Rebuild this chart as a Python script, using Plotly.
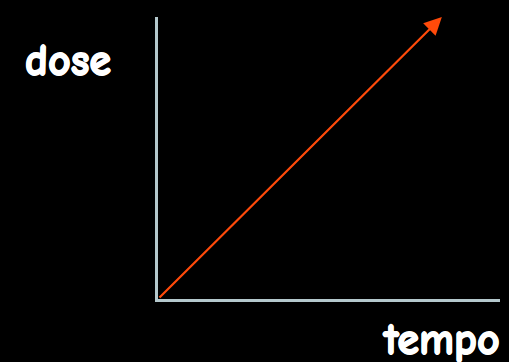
import plotly.graph_objects as go

# Data
x_label = "tempo"
y_label = "dose"
arrow_start = [0.0, 0.0]   # (tempo, dose)
arrow_end = [0.83, 1.0]

axis_color = "#b4c8cc"
arrow_color = "#ff4a0a"
font_family = "Comic Sans MS, Comic Neue, Lato, sans-serif"

W, H = 509, 362
ml, mr, mt, mb = 158, 9, 17, 63
pw, ph = W - ml - mr, H - mt - mb

def px_to_paper(px, py):
    return (px - ml) / pw, (H - py - mb) / ph

thick = "0.8px 0 0 white, -0.8px 0 0 white, 0 0.8px 0 white, 0 -0.8px 0 white"
label_font = dict(family=font_family, size=44, color="white", weight="bold", shadow=thick)

fig = go.Figure()
fig.add_trace(go.Scatter(x=[arrow_start[0], arrow_end[0]], y=[arrow_start[1], arrow_end[1]],
                         mode="lines", line=dict(color="rgba(0,0,0,0)"), hoverinfo="skip",
                         showlegend=False))

fig.add_annotation(x=arrow_end[0], y=arrow_end[1], ax=arrow_start[0], ay=arrow_start[1],
                   xref="x", yref="y", axref="x", ayref="y", text="",
                   showarrow=True, arrowhead=2, arrowsize=1.6, arrowwidth=2.2,
                   arrowcolor=arrow_color, standoff=0, startstandoff=0)

dx, dy = px_to_paper(68, 60)
fig.add_annotation(x=dx, y=dy, xref="paper", yref="paper", text="<b>" + y_label + "</b>",
                   showarrow=False, xanchor="center", yanchor="middle", font=label_font)
tx, ty = px_to_paper(441, 339)
fig.add_annotation(x=tx, y=ty, xref="paper", yref="paper", text="<b>" + x_label + "</b>",
                   showarrow=False, xanchor="center", yanchor="middle", font=label_font)

fig.update_layout(
    width=W, height=H,
    margin=dict(l=ml, r=mr, t=mt, b=mb),
    paper_bgcolor="black", plot_bgcolor="black",
    xaxis=dict(range=[0, 1], showline=True, linecolor=axis_color, linewidth=2.5,
               showgrid=False, zeroline=False, showticklabels=False, ticks=""),
    yaxis=dict(range=[0, 1], showline=True, linecolor=axis_color, linewidth=2.5,
               showgrid=False, zeroline=False, showticklabels=False, ticks=""),
)
fig.write_html("out.html", config={"displayModeBar": False})

with open("out.html", encoding="utf-8") as f:
    html = f.read()
html = html.replace("<body>", '<body style="margin:0;background:black;overflow:hidden">', 1)
with open("out.html", "w", encoding="utf-8") as f:
    f.write(html)
